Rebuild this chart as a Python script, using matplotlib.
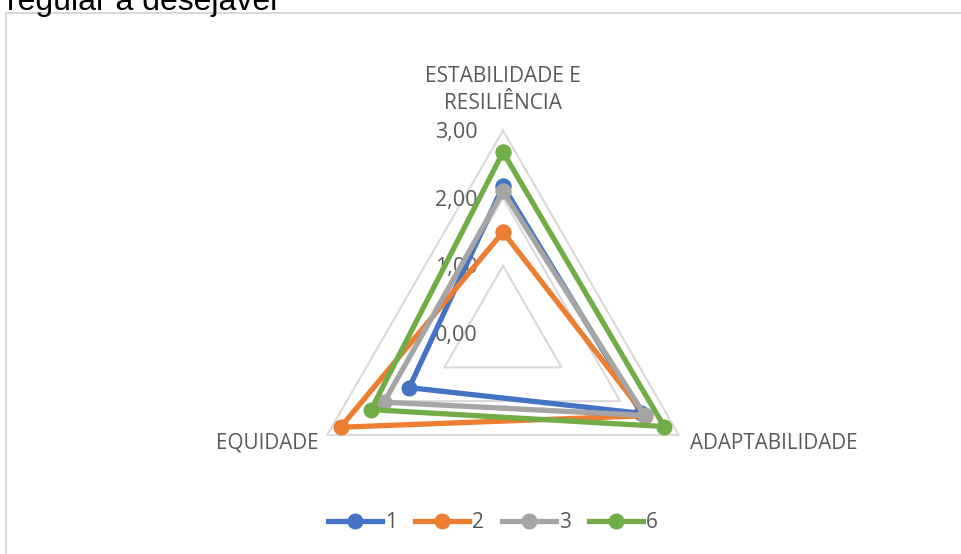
import numpy as np
import matplotlib
matplotlib.use('Agg')
import matplotlib.pyplot as plt
from matplotlib.patches import Rectangle

categories = ['ESTABILIDADE E\nRESILIÊNCIA', 'ADAPTABILIDADE', 'EQUIDADE']
series_names = ['1', '2', '3', '6']
s1 = [2.18, 2.36, 1.60]
s2 = [1.50, 2.43, 2.77]
s3 = [2.10, 2.42, 2.03]
s6 = [2.68, 2.75, 2.25]
tick_values = [0, 1, 2, 3]
tick_labels = ['0,00', '1,00', '2,00', '3,00']

colors = ['#4472C4', '#ED7D31', '#A5A5A5', '#70AD47']
text_col = '#595959'
grid_col = '#D9D9D9'

plt.rcParams['font.family'] = ['Open Sans', 'DejaVu Sans']

fig = plt.figure(figsize=(9.61, 5.54), dpi=100)

# chart area border (runs off right and bottom)
fig.patches.append(Rectangle((6 / 961, -0.2), 2, 1.2 - 13 / 554, transform=fig.transFigure,
                             fill=False, edgecolor=grid_col, lw=1.5))
fig.text(7 / 961, 1 - 10 / 554, 'regular a desejável', family='Liberation Sans',
         fontsize=23, color='black', va='baseline', ha='left')

ax = fig.add_axes([300 / 961, 17.5 / 554, 406 / 961, 406 / 554], projection='polar')
ax.set_theta_zero_location('N')
ax.set_theta_direction(-1)
ax.set_ylim(0, 3)
ax.grid(False)
ax.set_xticks([])
ax.set_yticks([])
ax.spines['polar'].set_visible(False)
ax.patch.set_alpha(0)

n = len(categories)
theta = np.linspace(0, 2 * np.pi, n, endpoint=False)
theta_c = np.append(theta, theta[0])

for lvl in tick_values[1:]:
    ax.plot(theta_c, [lvl] * (n + 1), color=grid_col, lw=1.5, zorder=1, clip_on=False)

for vals, name, c in zip([s1, s2, s3, s6], series_names, colors):
    v = list(vals) + [vals[0]]
    ax.plot(theta_c, v, color=c, lw=3.8, marker='o', markersize=10.5,
            label=name, zorder=3, clip_on=False, solid_joinstyle='round')

for val, lab in zip(tick_values, tick_labels):
    ax.annotate(lab, xy=(0, val), xytext=(-18, -1.5), textcoords='offset points',
                ha='right', va='center', fontsize=15.5, color=text_col, zorder=2)

ax.annotate(categories[0], xy=(theta[0], 3), xytext=(0, 29), textcoords='offset points',
            ha='center', va='center', fontsize=15, color=text_col, linespacing=1.4)
ax.annotate(categories[1], xy=(theta[1], 3), xytext=(8, -5.8), textcoords='offset points',
            ha='left', va='center', fontsize=14.9, color=text_col)
ax.annotate(categories[2], xy=(theta[2], 3), xytext=(-6.5, -5.8), textcoords='offset points',
            ha='right', va='center', fontsize=14.9, color=text_col)

leg = fig.legend(loc='center', bbox_to_anchor=(493 / 961, 1 - 523 / 554), ncol=4,
                 frameon=False, fontsize=15, handlelength=2.6, handletextpad=0.15,
                 columnspacing=0.85, labelcolor=text_col)

fig.savefig('out.png', dpi=100)
